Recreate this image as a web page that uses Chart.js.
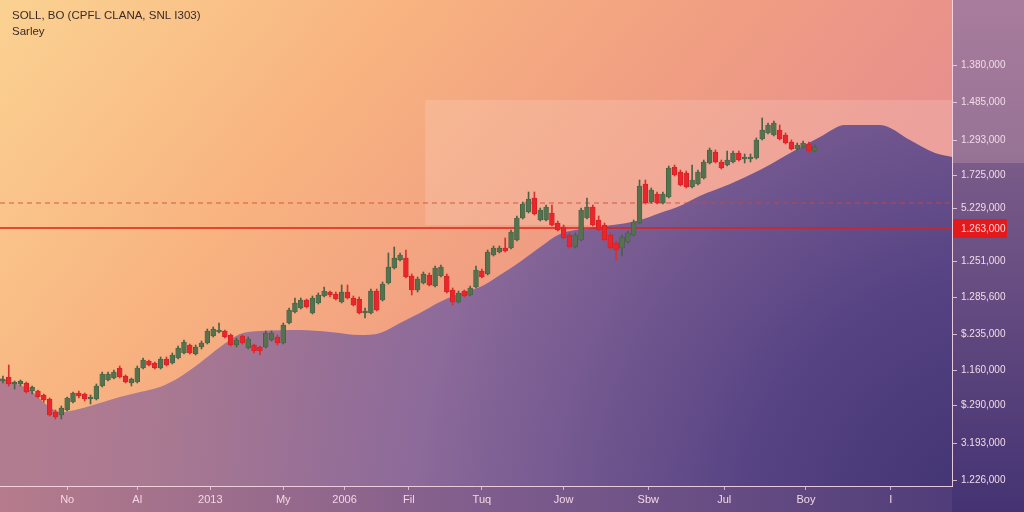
<!DOCTYPE html>
<html>
<head>
<meta charset="utf-8">
<script src="https://cdn.jsdelivr.net/npm/chart.js@4.4.1/dist/chart.umd.min.js"></script>
<style>
  html, body { margin: 0; padding: 0; background: #6a4a86; }
  #wrap { width: 1024px; height: 512px; }
</style>
</head>
<body>
<div id="wrap"><canvas id="chart" width="1024" height="512"></canvas></div>
<script>
// candle values (one per session)
const opens = [1306,1310,1303,1303,1304,1296,1296,1292,1288,1275,
  1272,1277,1285,1294,1293,1288,1288,1301,1307,1309,
  1319,1311,1304,1305,1319,1326,1324,1319,1328,1324,
  1329,1334,1342,1333,1340,1344,1351,1355,1356,1352,
  1342,1351,1339,1342,1340,1340,1347,1350,1344,1364,
  1375,1379,1387,1374,1384,1391,1395,1393,1385,1395,
  1389,1388,1374,1374,1396,1387,1404,1419,1427,1429,
  1411,1397,1404,1412,1401,1411,1411,1397,1385,1396,
  1392,1400,1416,1413,1432,1435,1439,1439,1447,1469,
  1475,1489,1467,1467,1474,1464,1460,1452,1440,1447,
  1469,1480,1467,1462,1452,1444,1439,1445,1452,1464,
  1503,1485,1493,1484,1490,1520,1515,1514,1500,1503,
  1509,1524,1535,1525,1522,1525,1534,1528,1528,1529,
  1548,1554,1552,1557,1552,1545,1538,1540,1543,1536];
const closes = [1308,1303,1305,1306,1295,1300,1290,1287,1272,1270,
  1279,1289,1294,1291,1288,1290,1301,1313,1313,1315,
  1310,1305,1308,1319,1327,1322,1319,1328,1322,1332,
  1339,1345,1334,1340,1344,1356,1358,1357,1350,1342,
  1347,1344,1348,1336,1336,1354,1354,1344,1362,1377,
  1384,1387,1380,1389,1392,1396,1392,1388,1395,1389,
  1382,1374,1376,1396,1377,1403,1420,1429,1432,1410,
  1397,1408,1413,1402,1419,1420,1395,1385,1394,1391,
  1399,1417,1410,1435,1439,1439,1436,1455,1469,1483,
  1488,1473,1477,1480,1462,1457,1449,1440,1452,1477,
  1480,1462,1457,1447,1439,1437,1450,1454,1465,1501,
  1484,1497,1484,1493,1519,1512,1502,1500,1507,1515,
  1525,1537,1525,1519,1527,1534,1527,1530,1530,1547,
  1557,1562,1564,1548,1544,1538,1542,1544,1536,1540];
const highs = [1311,1322,1306,1307,1305,1301,1297,1293,1289,1277,
  1281,1290,1295,1296,1294,1292,1303,1315,1315,1317,
  1321,1312,1309,1321,1329,1327,1325,1330,1330,1334,
  1341,1347,1343,1342,1346,1358,1360,1364,1357,1353,
  1349,1352,1350,1343,1341,1356,1356,1352,1364,1379,
  1389,1389,1388,1391,1394,1400,1396,1395,1402,1402,
  1391,1390,1379,1398,1398,1405,1434,1440,1434,1437,
  1413,1410,1415,1414,1421,1422,1413,1399,1396,1397,
  1401,1421,1418,1437,1441,1441,1449,1457,1471,1485,
  1495,1495,1479,1482,1482,1466,1462,1454,1454,1479,
  1489,1482,1471,1464,1454,1446,1452,1456,1467,1507,
  1507,1499,1495,1495,1521,1522,1517,1516,1522,1517,
  1527,1539,1537,1527,1536,1536,1536,1533,1533,1549,
  1569,1564,1566,1562,1554,1547,1544,1546,1545,1542];
const lows = [1304,1301,1298,1301,1294,1293,1289,1285,1271,1268,
  1268,1276,1284,1289,1286,1283,1287,1300,1306,1308,
  1309,1304,1301,1304,1318,1321,1318,1318,1321,1323,
  1328,1333,1333,1332,1338,1343,1350,1354,1349,1341,
  1340,1343,1338,1334,1332,1339,1346,1342,1343,1363,
  1374,1378,1379,1373,1383,1390,1390,1387,1384,1388,
  1381,1373,1369,1373,1376,1386,1403,1418,1426,1409,
  1392,1395,1403,1401,1400,1410,1394,1382,1384,1390,
  1391,1399,1409,1412,1431,1434,1435,1438,1446,1468,
  1474,1472,1466,1466,1461,1456,1448,1439,1439,1446,
  1468,1461,1456,1446,1438,1427,1431,1444,1451,1463,
  1483,1484,1483,1483,1489,1511,1501,1499,1499,1502,
  1508,1523,1524,1518,1521,1524,1526,1524,1525,1528,
  1547,1553,1551,1547,1543,1537,1537,1539,1535,1535];

// background mountain (volume-like area)
const mountainX = [-0.5,4.6,8,9.8,16.6,20,23.5,26.9,30.3,33.7,37.2,40.6,44,50.9,56,61.1,64.6,68,71.4,74.8,
  78.3,81.7,85.1,88.5,92,95.4,100.5,105.7,109.1,112.5,115.9,119.3,124.5,129.6,134.8,139.9,144.2,150.2,155.3,159.6,162.5];
const mountainY = [1309,1297,1280,1275,1284,1290,1295,1300,1310,1324,1340,1353,1356,1357,1355,1352,1354,1364,1374,1385,
  1394,1400,1412,1425,1440,1453,1459,1463,1467,1474,1481,1491,1503,1517,1534,1550,1562,1562,1547,1534,1530];

const xMin = -0.5, xMax = 162.5;
const yMin = 1201, yMax = 1687;
const xTickPos = [11, 23, 35.5, 48, 58.5, 69.5, 82, 96, 110.5, 123.5, 137.5, 152];
const xTickLabels = ['No', 'Al', '2013', 'My', '2006', 'Fil', 'Tuq', 'Jow', 'Sbw', 'Jul', 'Boy', 'I'];
const yTickValues = [1207, 1244, 1282, 1317, 1353, 1390, 1426, 1479, 1512, 1547, 1585, 1622];
const yTickLabels = ['1.226,000', '3.193,000', '$.290,000', '1.160,000', '$.235,000', '1.285,600',
  '1.251,000', '5.229,000', '1.725,000', '1.293,000', '1.485,000', '1.380,000'];

const priceLevel = 1459, priceLabel = '1.263,000';
const dashLevel = 1484;
const zoneX = [72.3, 162.5], zoneY = [1462, 1587];

const titleText = 'SOLL, BO (CPFL CLANA, SNL I303)';
const subText = 'Sarley';

const up = i => closes[i] >= opens[i];

const bgPlugin = {
  id: 'bg',
  beforeDraw(chart) {
    const { ctx, chartArea: a, width, height } = chart;
    ctx.save();
    // outer strips
    let g = ctx.createLinearGradient(0, 0, width, 0);
    g.addColorStop(0, '#b67c8c');
    g.addColorStop(0.5, '#7c5b8c');
    g.addColorStop(1, '#483876');
    ctx.fillStyle = g;
    ctx.fillRect(0, 0, width, height);
    g = ctx.createLinearGradient(0, 0, 0, height);
    g.addColorStop(0, '#a87c9c');
    g.addColorStop(0.3, '#977396');
    g.addColorStop(1, '#483876');
    ctx.fillStyle = g;
    ctx.fillRect(a.right, 0, width - a.right, height);
    const tailY = chart.scales.y.getPixelForValue(mountainY[mountainY.length - 1]) + 6;
    ctx.fillStyle = 'rgba(60,40,110,0.3)';
    ctx.fillRect(a.right, tailY, width - a.right, height - tailY);
    // plot area
    g = ctx.createLinearGradient(a.left, a.top, a.left + 600, a.top + 500);
    g.addColorStop(0, '#fbd292');
    g.addColorStop(0.4, '#f8b380');
    g.addColorStop(0.7, '#f19f82');
    g.addColorStop(1, '#e8908c');
    ctx.fillStyle = g;
    ctx.fillRect(a.left, a.top, a.right - a.left, a.bottom - a.top);
    ctx.restore();
  },
  beforeDatasetsDraw(chart) {
    const { ctx, scales: { x, y } } = chart;
    const x0 = x.getPixelForValue(zoneX[0]), x1 = x.getPixelForValue(zoneX[1]);
    const y0 = y.getPixelForValue(zoneY[1]), y1 = y.getPixelForValue(zoneY[0]);
    ctx.save();
    ctx.fillStyle = 'rgba(255,228,222,0.2)';
    ctx.fillRect(x0, y0, x1 - x0, y1 - y0);
    ctx.restore();
  },
  afterDraw(chart) {
    const { ctx, chartArea: a, scales: { y } } = chart;
    ctx.save();
    ctx.fillStyle = '#3a2a26';
    ctx.font = '11.5px "Liberation Sans", Arial, sans-serif';
    ctx.textBaseline = 'alphabetic';
    ctx.fillText(titleText, 12, 19);
    ctx.fillText(subText, 12, 35);
    // current price tag
    const py = y.getPixelForValue(priceLevel);
    ctx.fillStyle = '#e3191c';
    ctx.fillRect(a.right + 1, py - 9, 54, 19);
    ctx.fillStyle = '#ffd9dc';
    ctx.font = '10px "Liberation Sans", Arial, sans-serif';
    ctx.textBaseline = 'middle';
    ctx.fillText(priceLabel, a.right + 9, py + 1);
    ctx.restore();
  }
};

const idx = opens.map((_, i) => i);

new Chart(document.getElementById('chart'), {
  type: 'bar',
  data: {
    datasets: [
      {
        type: 'bar',
        data: idx.map(i => ({ x: i, y: [lows[i], highs[i]] })),
        backgroundColor: c => up(c.dataIndex) ? '#4a6146' : '#d83030',
        barThickness: 1,
        grouped: false,
        order: 2
      },
      {
        type: 'bar',
        data: idx.map(i => ({ x: i, y: [opens[i], closes[i]] })),
        backgroundColor: c => up(c.dataIndex) ? '#55724f' : '#e8262b',
        borderColor: c => up(c.dataIndex) ? '#40593d' : '#c81e22',
        borderWidth: 0.6,
        borderSkipped: false,
        barThickness: 4.8,
        grouped: false,
        order: 1
      },
      {
        type: 'line',
        data: [{ x: xMin, y: priceLevel }, { x: xMax, y: priceLevel }],
        borderColor: '#dc201c',
        borderWidth: 1.5,
        pointRadius: 0,
        order: 3
      },
      {
        type: 'line',
        data: [{ x: xMin, y: dashLevel }, { x: xMax, y: dashLevel }],
        borderColor: 'rgba(205,70,60,0.85)',
        borderWidth: 1,
        borderDash: [5, 4],
        pointRadius: 0,
        order: 4
      },
      {
        type: 'line',
        data: mountainX.map((v, i) => ({ x: v, y: mountainY[i] })),
        borderWidth: 0,
        pointRadius: 0,
        cubicInterpolationMode: 'monotone',
        fill: 'start',
        backgroundColor: c => {
          const a = c.chart.chartArea;
          if (!a) return '#8a6a96';
          const g = c.chart.ctx.createRadialGradient(a.right + 50, a.bottom + 40, 0, a.right + 50, a.bottom + 40, 980);
          g.addColorStop(0, '#3e3170');
          g.addColorStop(0.25, '#554283');
          g.addColorStop(0.6, '#8c6a9a');
          g.addColorStop(0.85, '#a87892');
          g.addColorStop(1, '#b27c90');
          return g;
        },
        order: 10
      }
    ]
  },
  options: {
    responsive: false,
    devicePixelRatio: 1,
    animation: false,
    layout: { padding: 0 },
    plugins: { legend: { display: false }, tooltip: { enabled: false } },
    scales: {
      x: {
        type: 'linear',
        offset: false,
        min: xMin,
        max: xMax,
        afterBuildTicks: s => { s.ticks = xTickPos.map(v => ({ value: v })); },
        afterFit: s => { s.height = 26; s.paddingLeft = 0; s.paddingRight = 0; },
        ticks: {
          autoSkip: false,
          maxRotation: 0,
          padding: 3,
          color: '#f4d6e2',
          font: { family: '"Liberation Sans", Arial, sans-serif', size: 11 },
          callback: (v, i) => xTickLabels[i]
        },
        grid: { display: true, drawOnChartArea: false, offset: false, tickLength: 4, color: 'rgba(255,225,235,0.7)' },
        border: { display: true, color: 'rgba(255,225,235,0.85)', width: 1 }
      },
      y: {
        type: 'linear',
        position: 'right',
        min: yMin,
        max: yMax,
        afterBuildTicks: s => { s.ticks = yTickValues.map(v => ({ value: v })); },
        afterFit: s => { s.width = 72; s.paddingTop = 0; s.paddingBottom = 0; },
        ticks: {
          padding: 4,
          color: '#f3dbe8',
          font: { family: '"Liberation Sans", Arial, sans-serif', size: 10 },
          callback: (v, i) => yTickLabels[i]
        },
        grid: { display: true, drawOnChartArea: false, tickLength: 5, color: 'rgba(255,225,235,0.75)' },
        border: { display: true, color: 'rgba(255,225,235,0.85)', width: 1 }
      }
    }
  },
  plugins: [bgPlugin]
});
</script>
</body>
</html>
